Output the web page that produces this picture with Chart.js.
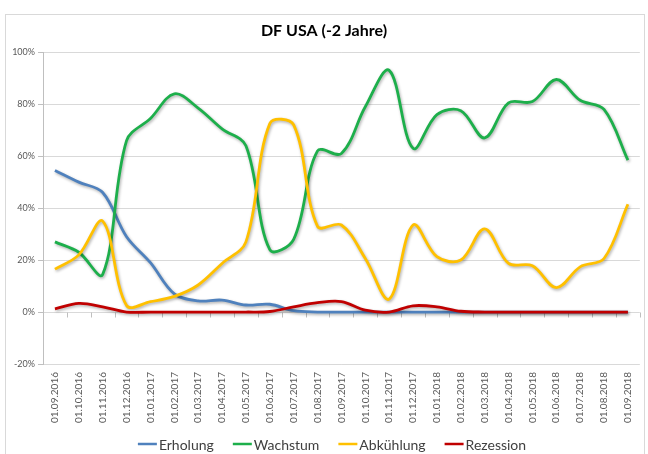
<!DOCTYPE html>
<html lang="de">
<head>
<meta charset="utf-8">
<title>DF USA (-2 Jahre)</title>
<script src="https://cdn.jsdelivr.net/npm/chart.js@4"></script>
<style>
  html, body { margin: 0; padding: 0; background: #ffffff; }
  #wrap { position: relative; width: 648px; height: 454px; }
  canvas { display: block; }
</style>
</head>
<body>
<div id="wrap"><canvas id="chart" width="648" height="454"></canvas></div>
<script>
// Monthly observation dates
const labels = [
  '01.09.2016', '01.10.2016', '01.11.2016', '01.12.2016',
  '01.01.2017', '01.02.2017', '01.03.2017', '01.04.2017', '01.05.2017', '01.06.2017',
  '01.07.2017', '01.08.2017', '01.09.2017', '01.10.2017', '01.11.2017', '01.12.2017',
  '01.01.2018', '01.02.2018', '01.03.2018', '01.04.2018', '01.05.2018', '01.06.2018',
  '01.07.2018', '01.08.2018', '01.09.2018'
];

// Phase probabilities in percent
const erholung = [54.5, 50, 46, 29, 19, 7, 4.3, 4.6, 2.7, 3, 0.5, 0, 0, 0, 0, 0, 0, 0, 0, 0, 0, 0, 0, 0, 0];
const wachstum = [27, 23, 14.5, 66, 74.5, 84, 78.5, 70.5, 64, 24, 28, 62, 61, 79, 93, 63, 76, 77.5, 67, 80.5, 81, 89.5, 81.5, 78, 58.5];
const abkuehlung = [16.5, 22, 35, 2.5, 4, 6, 10.4, 18.7, 27, 72.5, 72, 33, 33.5, 20.6, 5, 33.5, 21.3, 20, 32, 18.7, 17.8, 9.4, 17.4, 20.6, 41.5];
const rezession = [1.2, 3.3, 2, 0, 0, 0, 0, 0, 0, 0.2, 2, 3.6, 4, 0.7, 0, 2.4, 2, 0.3, 0, 0, 0, 0, 0, 0, 0];

// Y axis tick values
const yTicks = [-20, 0, 20, 40, 60, 80, 100];

const seriesNames = ['Erholung', 'Wachstum', 'Abkühlung', 'Rezession'];
const seriesColors = ['#4F81BD', '#1DAF4B', '#FFC000', '#C00000'];
const seriesValues = [erholung, wachstum, abkuehlung, rezession];

const FONT = 'Lato, "Open Sans", "Liberation Sans", sans-serif';

// Outer frame of the chart object
const framePlugin = {
  id: 'frame',
  beforeDraw(chart) {
    const ctx = chart.ctx;
    ctx.save();
    ctx.fillStyle = '#ffffff';
    ctx.fillRect(0, 0, chart.width, chart.height);
    ctx.strokeStyle = '#d9d9d9';
    ctx.lineWidth = 1;
    ctx.strokeRect(5.5, 14.5, 639, 460);
    ctx.restore();
  }
};

// Soft drop shadow under each line
const shadowPlugin = {
  id: 'lineShadow',
  beforeDatasetDraw(chart) {
    const ctx = chart.ctx;
    ctx.save();
    ctx.shadowColor = 'rgba(0,0,0,0.32)';
    ctx.shadowBlur = 3;
    ctx.shadowOffsetX = 1;
    ctx.shadowOffsetY = 1.5;
  },
  afterDatasetDraw(chart) {
    chart.ctx.restore();
  }
};

// Category tick marks hanging from the 0% line
const zeroTicksPlugin = {
  id: 'zeroTicks',
  beforeDatasetsDraw(chart) {
    const x = chart.scales.x, y = chart.scales.y;
    const ctx = chart.ctx;
    const y0 = Math.round(y.getPixelForValue(0)) + 0.5;
    const step = x.getPixelForValue(1) - x.getPixelForValue(0);
    ctx.save();
    ctx.strokeStyle = '#bfbfbf';
    ctx.lineWidth = 1;
    ctx.beginPath();
    for (let i = 0; i <= labels.length; i++) {
      const px = Math.round(x.getPixelForValue(0) - step / 2 + i * step) + 0.5;
      ctx.moveTo(px, y0);
      ctx.lineTo(px, y0 + 5);
    }
    ctx.stroke();
    ctx.restore();
  }
};

// Legend row below the date labels
const legendRowPlugin = {
  id: 'legendRow',
  afterDraw(chart) {
    const ctx = chart.ctx;
    const lineLen = 19, textGap = 2, itemGap = 19, cy = 444;
    ctx.save();
    ctx.font = '14px ' + FONT;
    ctx.textBaseline = 'middle';
    const widths = seriesNames.map(n => ctx.measureText(n).width);
    const total = widths.reduce((a, w) => a + lineLen + textGap + w, 0) + itemGap * (seriesNames.length - 1);
    let x = 332 - total / 2;
    seriesNames.forEach((name, i) => {
      ctx.strokeStyle = seriesColors[i];
      ctx.lineWidth = 2.5;
      ctx.beginPath();
      ctx.moveTo(x, cy);
      ctx.lineTo(x + lineLen, cy);
      ctx.stroke();
      ctx.fillStyle = '#404040';
      ctx.fillText(name, x + lineLen + textGap, cy + 1);
      x += lineLen + textGap + widths[i] + itemGap;
    });
    ctx.restore();
  }
};

const datasets = seriesNames.map((name, i) => ({
  label: name,
  data: seriesValues[i],
  borderColor: seriesColors[i],
  backgroundColor: seriesColors[i],
  borderWidth: 2.8,
  pointRadius: 0,
  pointHoverRadius: 0,
  tension: 0.35,
  fill: false,
  order: seriesNames.length - i
}));

new Chart(document.getElementById('chart'), {
  type: 'line',
  data: { labels: labels, datasets: datasets },
  plugins: [framePlugin, zeroTicksPlugin, shadowPlugin, legendRowPlugin],
  options: {
    responsive: false,
    animation: false,
    events: [],
    layout: { padding: { left: 5, right: 5, top: 0, bottom: 0 } },
    plugins: {
      legend: { display: false },
      tooltip: { enabled: false },
      title: {
        display: true,
        text: 'DF USA (-2 Jahre)',
        color: '#000000',
        font: { family: FONT, size: 16, weight: 'bold' },
        padding: { top: 21, bottom: 12 }
      }
    },
    scales: {
      x: {
        offset: true,
        grid: { display: false, drawTicks: false },
        border: { display: false },
        ticks: {
          autoSkip: false,
          minRotation: 90,
          maxRotation: 90,
          padding: 8,
          color: '#595959',
          font: { family: FONT, size: 10 }
        },
        afterFit(scale) { scale.height = 90; }
      },
      y: {
        min: -20,
        max: 100,
        afterBuildTicks(scale) { scale.ticks = yTicks.map(v => ({ value: v })); },
        grid: { color: '#d9d9d9', lineWidth: 1, drawTicks: true, tickLength: 5, tickColor: '#bfbfbf' },
        border: { display: true, color: '#bfbfbf' },
        ticks: {
          padding: 3,
          color: '#595959',
          font: { family: FONT, size: 9 },
          callback: v => v + '%'
        },
        afterFit(scale) { scale.width = 38; }
      }
    }
  }
});
</script>
</body>
</html>
